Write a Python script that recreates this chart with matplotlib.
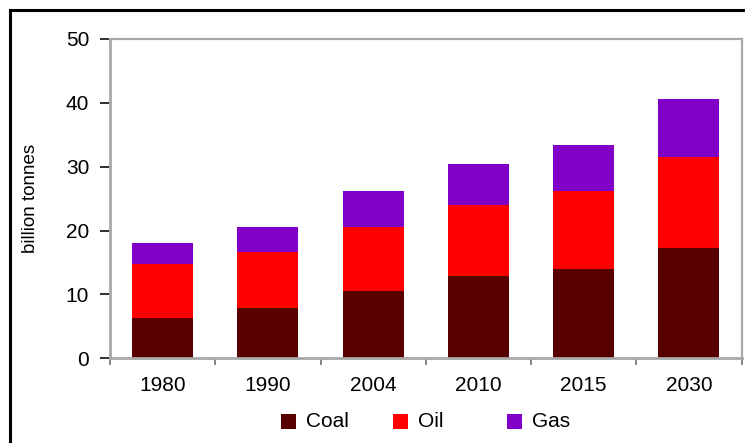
import numpy as np
import matplotlib
matplotlib.use('Agg')
import matplotlib.pyplot as plt
from matplotlib import rcParams
from matplotlib.patches import Rectangle
from matplotlib.lines import Line2D

rcParams['font.family'] = 'Liberation Sans'

# data (billion tonnes)
years = ['1980', '1990', '2004', '2010', '2015', '2030']
coal = [6.3, 7.9, 10.5, 12.9, 14.0, 17.2]
oil = [8.5, 8.75, 10.1, 11.1, 12.2, 14.35]
gas = [3.2, 3.95, 5.65, 6.45, 7.2, 9.0]
series_names = ['Coal', 'Oil', 'Gas']
colors = ['#580000', '#ff0000', '#8000c8']

fig = plt.figure(figsize=(7.45, 4.43), dpi=100)
ax = fig.add_axes([110/745, 1-358.3/443, 631.5/745, 319.3/443])

x = np.arange(len(years))
bottom = np.zeros(len(years))
for vals, c in zip([coal, oil, gas], colors):
    ax.bar(x, vals, width=0.58, bottom=bottom, color=c, linewidth=0)
    bottom += np.array(vals)

ax.set_xlim(-0.5, len(years)-0.5)
ax.set_ylim(0, 50)
ax.set_yticks([0, 10, 20, 30, 40, 50])

# category labels centred, small ticks at the slot borders
ax.set_xticks(x)
ax.set_xticklabels(years, fontsize=15)
ax.tick_params(axis='x', which='major', length=0, pad=13)
ax.set_xticks(np.arange(-0.5, len(years)), minor=True)
ax.tick_params(axis='x', which='minor', length=5, width=1.2, color='#707070')
ax.tick_params(axis='y', length=7, width=1.3, color='#202020', pad=8, labelsize=15)

for s in ax.spines.values():
    s.set_color('#a8a8a8')
    s.set_linewidth(1.6)
ax.spines['left'].set_linewidth(2)
ax.spines['bottom'].set_linewidth(2)

ax.set_ylabel('billion tonnes', fontsize=13.5, labelpad=19)

# legend drawn by hand so the spacing matches
leg_x = [281, 393, 507]
for name, c, lx in zip(series_names, colors, leg_x):
    fig.add_artist(Rectangle((lx/745, 1-429/443), 15/745, 15/443,
                             transform=fig.transFigure, facecolor=c, edgecolor='none'))
    fig.text((lx+25)/745, 1-421.5/443, name, fontsize=15, va='center', ha='left')

# black outer border (left and top edges only are visible)
fig.add_artist(Line2D([9.5/745, 9.5/745], [0, 1-10/443], color='black', lw=2.2,
                      transform=fig.transFigure))
fig.add_artist(Line2D([9.5/745, 1], [1-10/443, 1-10/443], color='black', lw=2.2,
                      transform=fig.transFigure))

fig.savefig('out.png', dpi=100)
